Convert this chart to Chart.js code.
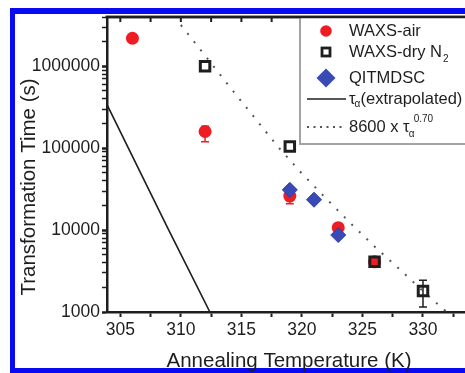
<!DOCTYPE html>
<html>
<head>
<meta charset="utf-8">
<script src="https://cdn.jsdelivr.net/npm/chart.js@4.4.0/dist/chart.umd.min.js"></script>
<style>
  html, body { margin: 0; padding: 0; background: #fff; overflow: hidden; }
  #wrap { position: absolute; left: 0; top: 0; width: 465px; height: 373px; }
</style>
</head>
<body>
<div id="wrap"><canvas id="myChart" width="465" height="373"></canvas></div>
<script>
// Data
const airTemp = [306, 312, 319, 323, 326];
const airTime = [2200000, 160000, 26000, 10700, 4100];
const airErrLow = [null, 120000, 21000, null, null];
const airErrHigh = [null, 185000, 31000, null, null];

const dryTemp = [312, 319, 326, 330];
const dryTime = [1000000, 105000, 4100, 1800];
const dryErrLow = [null, null, null, 1150];
const dryErrHigh = [null, null, null, 2450];

const dscTemp = [319, 321, 323];
const dscTime = [31000, 23500, 8700];

// tau_alpha (extrapolated)
const tauTemp = [303.9, 309, 312.4];
const tauTime = [340000, 10000, 1000];

// 8600 x tau_alpha^0.70
const fitTemp = [310, 312, 314, 316, 318, 320, 322, 324, 326, 328, 330, 332.5];
const fitTime = [3200000, 1350000, 570000, 245000, 105000, 49000, 24300, 12200, 6300, 3400, 1800, 850];

const xTicks = [305, 307.5, 310, 312.5, 315, 317.5, 320, 322.5, 325, 327.5, 330, 332.5];
const xLabels = [305, 310, 315, 320, 325, 330];
const yLabels = [1000, 10000, 100000, 1000000];
const yTicks = yLabels.flatMap(d => [1, 2, 3, 4, 5, 6, 7, 8, 9].map(k => k * d)).filter(v => v <= 4000000);

const FONT = '"Liberation Sans", Arial, sans-serif';
const INK = '#1e1e1e';
const RED = '#ee1d24';
const BLUE = '#3949b5';
const FRAME = '#0a0af2';

const pts = (xs, ys) => xs.map((t, i) => ({ x: t, y: ys[i] }));

function errorBars(g, x, y, temps, lows, highs, color) {
  g.strokeStyle = color;
  g.lineWidth = 1.5;
  temps.forEach((t, i) => {
    if (lows[i] == null) return;
    const px = x.getPixelForValue(t);
    const y1 = y.getPixelForValue(lows[i]);
    const y2 = y.getPixelForValue(highs[i]);
    g.beginPath();
    g.moveTo(px, y1); g.lineTo(px, y2);
    g.moveTo(px - 4, y1); g.lineTo(px + 4, y1);
    g.moveTo(px - 4, y2); g.lineTo(px + 4, y2);
    g.stroke();
  });
}

function drawLegend(g, a) {
  const bx = 300, bb = 144;
  g.fillStyle = '#fff';
  g.fillRect(bx, a.top + 1, 200, bb - a.top - 1);
  g.strokeStyle = '#a3a3a3';
  g.lineWidth = 2;
  g.beginPath(); g.moveTo(bx, a.top); g.lineTo(bx, bb); g.lineTo(500, bb); g.stroke();

  // symbols
  g.fillStyle = RED;
  g.beginPath(); g.arc(326, 31, 5.8, 0, Math.PI * 2); g.fill();
  g.strokeStyle = INK; g.lineWidth = 2.8;
  g.strokeRect(322, 48, 8, 8);
  g.fillStyle = BLUE;
  g.beginPath(); g.moveTo(316.5, 78); g.lineTo(326, 68.5); g.lineTo(335.5, 78); g.lineTo(326, 87.5); g.closePath(); g.fill();
  g.strokeStyle = INK; g.lineWidth = 1.5;
  g.beginPath(); g.moveTo(307, 99); g.lineTo(346, 99); g.stroke();
  g.strokeStyle = '#555'; g.lineWidth = 2; g.setLineDash([2, 4.5]);
  g.beginPath(); g.moveTo(307, 127); g.lineTo(346, 127); g.stroke();
  g.setLineDash([]);

  // texts
  const big = '16.5px ' + FONT, small = '10px ' + FONT;
  g.fillStyle = INK; g.textAlign = 'left'; g.textBaseline = 'middle';
  g.font = big;
  g.fillText('WAXS-air', 349, 31);
  g.fillText('WAXS-dry N', 349, 52);
  let w = g.measureText('WAXS-dry N').width;
  g.font = small; g.fillText('2', 350 + w, 59);
  g.font = big;
  g.fillText('QITMDSC', 349, 78);
  g.fillText('\u03C4', 349, 99);
  w = g.measureText('\u03C4').width;
  g.font = small; g.fillText('\u03B1', 349 + w - 1, 104);
  g.font = big; g.fillText('(extrapolated)', 349 + w + 5, 99);
  g.fillText('8600 x \u03C4', 349, 127);
  w = g.measureText('8600 x \u03C4').width;
  g.font = small;
  g.fillText('\u03B1', 349 + w - 1, 134);
  g.fillText('0.70', 349 + w + 4, 119);
}

const extras = {
  id: 'extras',
  beforeDraw(chart) {
    const { ctx: g, width, height } = chart;
    // blue frame of the figure (open on the right, cropped)
    g.save();
    g.fillStyle = FRAME;
    g.fillRect(10, 8, 5, height - 8);
    g.fillRect(10, 8, width - 10, 6);
    g.fillRect(10, height - 5, width - 10, 5);
    g.restore();
  },
  beforeDatasetsDraw(chart) {
    const { ctx: g, chartArea: a, scales: { x, y } } = chart;
    g.save();
    // top frame with inward ticks
    g.strokeStyle = INK; g.lineWidth = 2.5;
    g.beginPath(); g.moveTo(a.left - 1.25, a.top); g.lineTo(a.right, a.top); g.stroke();
    g.lineWidth = 2;
    xTicks.forEach(v => {
      const px = x.getPixelForValue(v);
      g.beginPath(); g.moveTo(px, a.top); g.lineTo(px, a.top + 5); g.stroke();
    });
    errorBars(g, x, y, airTemp, airErrLow, airErrHigh, RED);
    errorBars(g, x, y, dryTemp, dryErrLow, dryErrHigh, INK);
    drawLegend(g, a);
    g.restore();
  },
  afterDraw(chart) {
    const { ctx: g, chartArea: a } = chart;
    g.save();
    g.strokeStyle = INK; g.lineWidth = 2.5;
    g.beginPath(); g.moveTo(a.left - 1.25, a.top); g.lineTo(a.right, a.top); g.stroke();
    g.fillStyle = INK;
    g.font = '20.5px ' + FONT;
    g.textAlign = 'center'; g.textBaseline = 'alphabetic';
    g.fillText('Annealing Temperature (K)', 289, 367);
    g.translate(35, 187);
    g.rotate(-Math.PI / 2);
    g.fillText('Transformation Time (s)', 0, 0);
    g.restore();
  }
};

const ctx = document.getElementById('myChart');

new Chart(ctx, {
  type: 'scatter',
  data: {
    datasets: [
      {
        label: 'WAXS-air',
        data: pts(airTemp, airTime),
        pointStyle: 'circle', pointRadius: 6.5,
        backgroundColor: RED, borderColor: RED, borderWidth: 0,
        order: 3,
      },
      {
        label: 'WAXS-dry N2',
        data: pts(dryTemp, dryTime),
        pointStyle: 'rect', pointRadius: 6.7,
        backgroundColor: 'rgba(0,0,0,0)', borderColor: INK, borderWidth: 3,
        order: 2,
      },
      {
        label: 'QITMDSC',
        data: pts(dscTemp, dscTime),
        pointStyle: 'rectRot', pointRadius: 7.5,
        backgroundColor: BLUE, borderColor: '#2e3ea8', borderWidth: 1,
        order: 1,
      },
      {
        label: 'tau (extrapolated)',
        data: pts(tauTemp, tauTime),
        showLine: true, pointRadius: 0,
        borderColor: INK, borderWidth: 1.6,
        order: 5,
      },
      {
        label: '8600 x tau^0.70',
        data: pts(fitTemp, fitTime),
        showLine: true, pointRadius: 0,
        borderColor: '#555', borderWidth: 2, borderDash: [2, 8.5],
        order: 4,
      },
    ],
  },
  options: {
    responsive: false,
    animation: false,
    layout: { autoPadding: false, padding: { top: 17, right: 0, left: 0, bottom: 0 } },
    plugins: { legend: { display: false }, tooltip: { enabled: false } },
    scales: {
      x: {
        type: 'linear', min: 303.9, max: 333.47,
        afterBuildTicks: (s) => { s.ticks = xTicks.map(v => ({ value: v })); },
        afterFit: (s) => { s.height = 61; },
        ticks: {
          autoSkip: false, maxRotation: 0, padding: 3, color: INK,
          font: { family: FONT, size: 17.5 },
          callback: (v) => xLabels.includes(v) ? String(v) : '',
        },
        grid: { drawOnChartArea: false, tickLength: 5, tickWidth: 2, tickColor: INK },
        border: { color: INK, width: 2.5 },
      },
      y: {
        type: 'logarithmic', min: 1000, max: 4000000,
        afterBuildTicks: (s) => { s.ticks = yTicks.map(v => ({ value: v })); },
        afterFit: (s) => { s.width = 107; },
        ticks: {
          autoSkip: false, padding: 2, color: INK,
          font: { family: FONT, size: 17.5 },
          callback: (v) => yLabels.includes(v) ? String(v) : '',
        },
        grid: {
          drawOnChartArea: false, tickLength: 5, tickColor: INK,
          tickWidth: (c) => (c.tick && yLabels.includes(c.tick.value)) ? 2.5 : 1.5,
        },
        border: { color: INK, width: 2.5 },
      },
    },
  },
  plugins: [extras],
});
</script>
</body>
</html>
